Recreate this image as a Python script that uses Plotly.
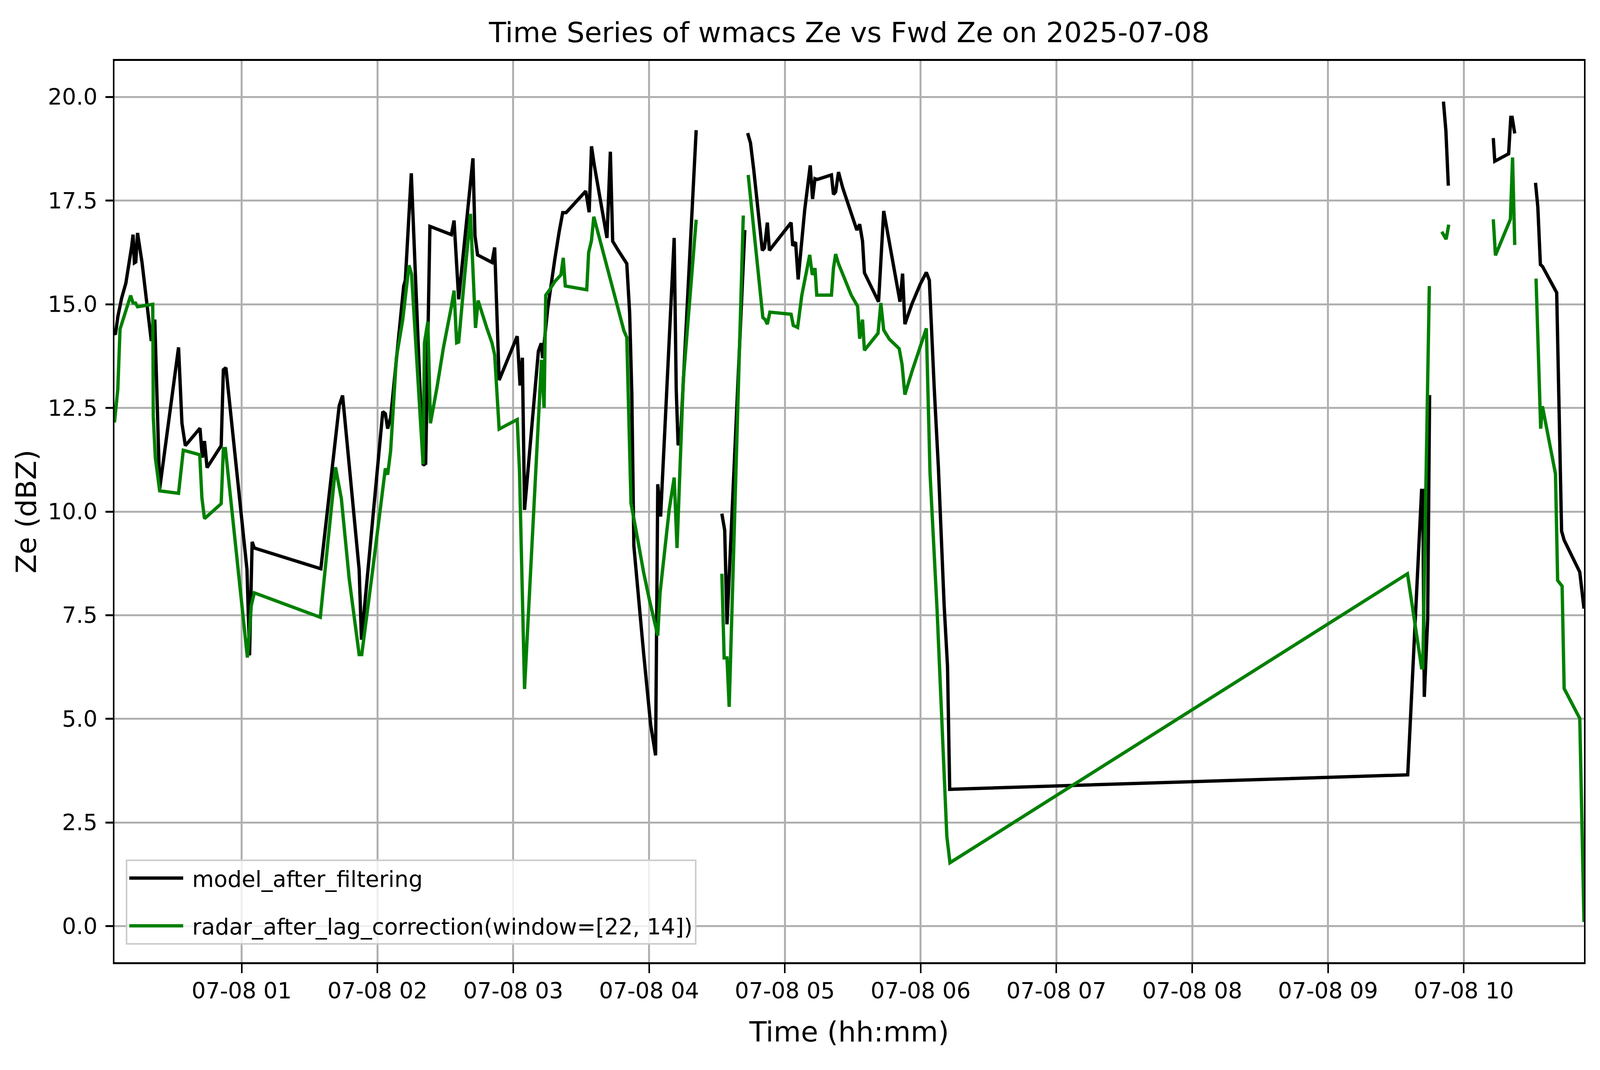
import pandas as pd
import plotly.graph_objects as go

# ---- data (hours after 2025-07-08 00:00, Ze in dBZ); None = missing sample ----
model_hours = [
    0.063, 0.070, 0.088, 0.116, 0.147, 0.174, 0.190, 0.200, 0.210, 0.220, 0.233, 0.266, 0.295, 0.320,
    0.333, 0.345, 0.360, 0.396, 0.535, 0.560, 0.585, 0.693, 0.710, 0.726, 0.745, 0.849, 0.865, 0.884,
    1.039, 1.058, 1.077, 1.093, 1.583, 1.718, 1.743, 1.865, 1.882, 2.039, 2.058, 2.075, 2.097, 2.193,
    2.205, 2.249, 2.336, 2.355, 2.386, 2.544, 2.564, 2.598, 2.703, 2.718, 2.737, 2.843, 2.863, 2.896,
    3.029, 3.050, 3.067, 3.083, 3.185, 3.206, 3.216, 3.254, 3.275, 3.306, 3.337, 3.364, 3.389, 3.534,
    3.559, 3.576, 3.597, 3.628, 3.659, 3.690, 3.715, 3.732, 3.773, 3.836, 3.857, 3.873, 3.888, 3.919,
    3.960, 4.012, 4.048, 4.064, 4.085, 4.185, 4.200, 4.214, 4.231, 4.347,
    4.44,
    4.536, 4.557, 4.574, 4.705,
    4.715,
    4.726, 4.747, 4.771, 4.802, 4.834, 4.850, 4.871, 4.886, 5.046, 5.058, 5.079, 5.098, 5.146, 5.187,
    5.204, 5.222, 5.239, 5.343, 5.358, 5.374, 5.395, 5.426, 5.478, 5.530, 5.551, 5.572, 5.586, 5.644,
    5.690, 5.728, 5.769, 5.811, 5.848, 5.867, 5.884, 5.936, 5.998, 6.042, 6.064, 6.100, 6.131, 6.173,
    6.198, 6.214, 9.587, 9.689, 9.698, 9.709, 9.734, 9.748,
    9.80,
    9.850, 9.868, 9.886,
    10.05,
    10.217, 10.228, 10.330, 10.346, 10.356, 10.375,
    10.45,
    10.528, 10.545, 10.564, 10.580, 10.684, 10.707, 10.720, 10.739, 10.854, 10.885,
]
model_ze = [
    14.30, 14.27, 14.70, 15.15, 15.51, 16.03, 16.40, 16.68, 16.00, 16.02, 16.72, 16.01, 15.15, 14.43,
    14.15, 14.15, 14.63, 10.55, 13.96, 12.13, 11.59, 12.01, 11.30, 11.70, 11.06, 11.59, 13.42, 13.47,
    8.60, 6.53, 9.27, 9.12, 8.62, 12.55, 12.80, 8.60, 6.91, 12.41, 12.36, 12.00, 12.27, 15.44,
    15.58, 18.16, 11.12, 11.16, 16.88, 16.68, 17.02, 15.12, 18.52, 16.66, 16.19, 16.01, 16.37, 13.17,
    14.23, 13.04, 13.71, 10.04, 13.87, 14.06, 13.70, 14.90, 15.44, 16.09, 16.73, 17.21, 17.21, 17.73,
    17.22, 18.81, 18.35, 17.76, 17.17, 16.60, 18.68, 16.52, 16.30, 15.98, 14.79, 12.85, 9.17, 7.99,
    6.58, 4.85, 4.12, 10.66, 9.88, 16.60, 12.95, 11.60, 11.77, 19.20,
    None,
    9.95, 9.55, 7.28, 16.79,
    None,
    19.13, 18.89, 18.24, 17.27, 16.30, 16.36, 16.97, 16.30, 16.97, 16.41, 16.50, 15.60, 17.27, 18.35,
    17.54, 18.03, 18.01, 18.12, 17.65, 17.71, 18.19, 17.81, 17.27, 16.79, 16.93, 16.52, 15.76, 15.38,
    15.06, 17.25, 16.52, 15.76, 15.06, 15.74, 14.52, 15.01, 15.49, 15.77, 15.58, 12.98, 11.04, 7.74,
    6.26, 3.30, 3.65, 10.51, 10.51, 5.53, 7.41, 12.81,
    None,
    19.89, 19.19, 17.86,
    None,
    19.01, 18.45, 18.63, 19.51, 19.51, 19.12,
    None,
    17.93, 17.35, 15.96, 15.91, 15.28, 11.19, 9.53, 9.31, 8.54, 7.66,
]

radar_hours = [
    0.063, 0.088, 0.104, 0.182, 0.200, 0.218, 0.233, 0.345, 0.349, 0.364, 0.396, 0.535, 0.570, 0.691,
    0.707, 0.726, 0.849, 0.865, 0.880, 0.942, 1.000, 1.042, 1.071, 1.093, 1.579, 1.691, 1.734, 1.792,
    1.865, 1.884, 1.965, 2.058, 2.075, 2.097, 2.139, 2.187, 2.232, 2.251, 2.336, 2.346, 2.371, 2.390,
    2.438, 2.486, 2.544, 2.564, 2.583, 2.598, 2.641, 2.685, 2.722, 2.741, 2.805, 2.843, 2.863, 2.896,
    3.029, 3.046, 3.083, 3.208, 3.227, 3.239, 3.264, 3.306, 3.351, 3.368, 3.383, 3.541, 3.555, 3.576,
    3.593, 3.628, 3.690, 3.715, 3.742, 3.773, 3.815, 3.836, 3.867, 3.919, 3.960, 4.002, 4.044, 4.064,
    4.081, 4.116, 4.148, 4.185, 4.206, 4.252, 4.347,
    4.44,
    4.536, 4.553, 4.574, 4.590, 4.694,
    4.712,
    4.730, 4.782, 4.838, 4.855, 4.871, 4.890, 5.046, 5.062, 5.094, 5.125, 5.183, 5.202, 5.222, 5.235,
    5.343, 5.358, 5.374, 5.395, 5.437, 5.489, 5.536, 5.551, 5.572, 5.586, 5.686, 5.707, 5.728, 5.769,
    5.842, 5.863, 5.884, 5.936, 6.042, 6.054, 6.069, 6.121, 6.193, 6.216, 9.585, 9.689, 9.698, 9.746,
    9.79,
    9.838, 9.870, 9.889,
    10.05,
    10.217, 10.233, 10.343, 10.359, 10.375,
    10.45,
    10.532, 10.566, 10.579, 10.675, 10.691, 10.714, 10.724, 10.739, 10.854, 10.885,
]
radar_ze = [
    12.15, 12.96, 14.40, 15.21, 15.03, 15.03, 14.94, 15.00, 12.29, 11.30, 10.50, 10.44, 11.48, 11.37,
    10.33, 9.83, 10.19, 11.52, 11.52, 9.59, 7.61, 6.48, 7.74, 8.04, 7.45, 11.07, 10.31, 8.37,
    6.55, 6.55, 8.60, 11.04, 10.89, 11.47, 13.71, 14.65, 15.94, 15.73, 11.14, 14.07, 14.58, 12.13,
    12.99, 13.96, 14.94, 15.33, 14.07, 14.09, 15.65, 17.18, 14.43, 15.09, 14.43, 14.07, 13.78, 11.99,
    12.22, 10.96, 5.72, 13.66, 12.50, 15.22, 15.33, 15.55, 15.71, 16.12, 15.44, 15.35, 16.25, 16.54,
    17.11, 16.68, 15.92, 15.60, 15.33, 14.90, 14.36, 14.20, 10.20, 9.28, 8.53, 7.88, 7.23, 7.01,
    8.04, 9.07, 10.04, 10.82, 9.12, 13.17, 17.04,
    None,
    8.50, 6.47, 6.47, 5.29, 17.14,
    None,
    18.12, 16.41, 14.68, 14.63, 14.52, 14.81, 14.76, 14.49, 14.44, 15.22, 16.19, 15.71, 15.87, 15.22,
    15.22, 15.87, 16.21, 15.98, 15.65, 15.22, 14.95, 14.17, 14.63, 13.89, 14.30, 15.03, 14.38, 14.16,
    13.93, 13.55, 12.82, 13.38, 14.42, 13.09, 10.93, 7.63, 2.16, 1.53, 8.50, 6.23, 6.23, 15.44,
    None,
    16.75, 16.57, 16.92,
    None,
    17.05, 16.18, 17.05, 18.54, 16.43,
    None,
    15.62, 12.00, 12.54, 10.91, 8.34, 8.23, 8.20, 5.73, 5.01, 0.10,
]

y_ticks = [0.0, 2.5, 5.0, 7.5, 10.0, 12.5, 15.0, 17.5, 20.0]
x_tick_hours = [1, 2, 3, 4, 5, 6, 7, 8, 9, 10]

day = pd.Timestamp("2025-07-08")
model_time = day + pd.to_timedelta(model_hours, unit="h")
radar_time = day + pd.to_timedelta(radar_hours, unit="h")
x_tickvals = day + pd.to_timedelta(x_tick_hours, unit="h")
x_ticktext = [t.strftime("%m-%d %H") for t in x_tickvals]

FONT = "DejaVu Sans"
W, H = 4096, 2740   # actual browser viewport (CSS px)

fig = go.Figure()
fig.add_trace(go.Scatter(x=model_time, y=model_ze, mode="lines",
                         name="\u00a0model_after_filtering",
                         line=dict(color="#000000", width=8.5), legendgroup="a"))
fig.add_trace(go.Scatter(x=radar_time, y=radar_ze, mode="lines",
                         name="\u00a0radar_after_lag_correction(window=[22, 14])",
                         line=dict(color="#008000", width=8.5), legendgroup="b"))

fig.update_layout(
    width=W, height=H,
    margin=dict(l=293, r=41, t=156, b=276, pad=0, autoexpand=False),
    paper_bgcolor="white", plot_bgcolor="white",
    font=dict(family=FONT, color="black", size=57),
    title=dict(text="Time Series of wmacs Ze vs Fwd Ze on 2025-07-08", x=0.5, xref="paper",
               y=1 - 83 / H, yref="container", xanchor="center", yanchor="middle",
               font=dict(size=72, family=FONT, color="black")),
    legend=dict(x=0.0077, y=0.0195, xanchor="left", yanchor="bottom",
                bgcolor="rgba(255,255,255,0.8)", bordercolor="#cccccc", borderwidth=4,
                font=dict(size=57, family=FONT), tracegroupgap=45, itemwidth=138),
    showlegend=True,
)

fig.update_xaxes(
    type="date",
    range=[model_time[0], model_time[-1]],
    tickvals=x_tickvals, ticktext=x_ticktext,
    showgrid=True, gridcolor="#b0b0b0", gridwidth=4.5,
    showline=True, linecolor="black", linewidth=5, mirror=True,
    ticks="outside", ticklen=23, tickwidth=4.3, tickcolor="black",
    ticklabelstandoff=-3,
    tickfont=dict(size=57, family=FONT),
    title=dict(text="Time (hh:mm)", font=dict(size=72, family=FONT), standoff=49),
    zeroline=False, automargin=False,
)
fig.update_yaxes(
    range=[-0.87, 20.87],
    tickvals=y_ticks, tickformat=".1f",
    showgrid=True, gridcolor="#b0b0b0", gridwidth=5,
    showline=True, linecolor="black", linewidth=4.3, mirror=True,
    ticks="outside", ticklen=19, tickwidth=5, tickcolor="black",
    ticklabelstandoff=9,
    tickfont=dict(size=57, family=FONT),
    title=dict(text="Ze (dBZ)", font=dict(size=72, family=FONT), standoff=7),
    zeroline=False, automargin=False,
)

fig.write_html("out.html", config={"displayModeBar": False},
               post_script="document.body.style.margin='0';document.body.style.overflow='hidden';")
